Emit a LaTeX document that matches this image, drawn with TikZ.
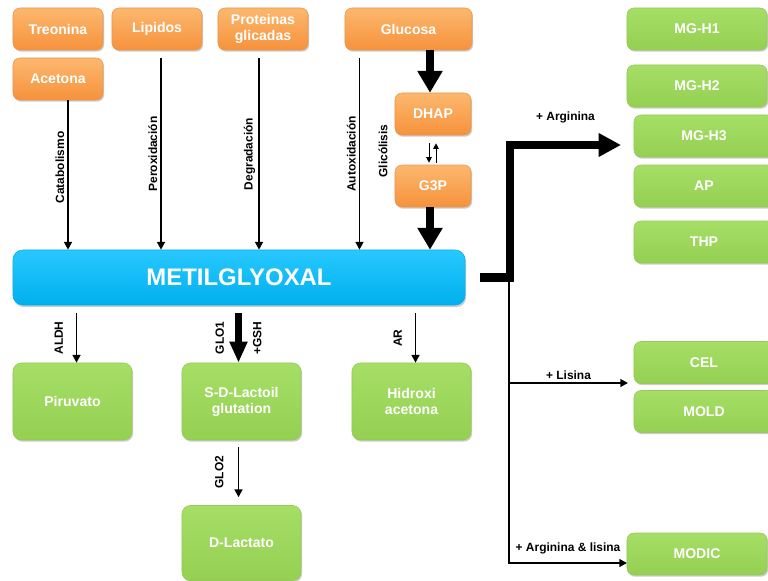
\documentclass[tikz,border=0pt]{standalone}
\usepackage{fontspec}
\setmainfont{Liberation Sans}
\usetikzlibrary{arrows.meta, positioning, shadows}
\definecolor{orangetop}{RGB}{252,184,110}
\definecolor{orangebot}{RGB}{246,146,60}
\definecolor{orangeedge}{RGB}{232,150,80}
\definecolor{greentop}{RGB}{166,222,102}
\definecolor{greenbot}{RGB}{148,208,82}
\definecolor{greenedge}{RGB}{150,200,90}
\definecolor{bluetop}{RGB}{40,200,255}
\definecolor{bluebot}{RGB}{0,176,236}
\tikzset{
  srcbox/.style={rectangle, rounded corners=5pt, draw=orangeedge, line width=0.4pt, top color=orangetop, bottom color=orangebot, text=white, font=\bfseries\fontsize{10}{11.5}\selectfont, minimum width=2.25cm, minimum height=1.05cm, align=center, inner sep=1pt, drop shadow={shadow xshift=0.8pt, shadow yshift=-1.2pt, opacity=0.4}},
  prodbox/.style={rectangle, rounded corners=6pt, draw=greenedge, line width=0.4pt, top color=greentop, bottom color=greenbot, text=white, font=\bfseries\fontsize{10}{11.5}\selectfont, minimum width=2.975cm, minimum height=1.925cm, align=center, drop shadow={shadow xshift=0.8pt, shadow yshift=-1.2pt, opacity=0.4}},
  agebox/.style={prodbox, rounded corners=5pt, minimum width=3.5cm, minimum height=1.05cm},
  mgbox/.style={rectangle, rounded corners=7pt, draw=bluebot, line width=0.4pt, top color=bluetop, bottom color=bluebot, text=white, font=\bfseries\fontsize{17}{20}\selectfont, minimum width=11.3cm, minimum height=1.375cm, drop shadow={shadow xshift=0.8pt, shadow yshift=-1.5pt, opacity=0.4}},
  lbl/.style={font=\bfseries\fontsize{8.5}{10}\selectfont, text=black, inner sep=2pt},
  arr/.style={-{Triangle[length=5.5pt, width=5.5pt]}, line width=1.4pt},
  smallarr/.style={-{Triangle[length=4pt, width=4pt]}, line width=0.7pt},
  bigarr/.style={-{Triangle[length=15.5pt, width=17pt]}, line width=5.7pt},
  midarr/.style={-{Triangle[length=15pt, width=12pt]}, line width=4.8pt}
}

\begin{document}
\begin{tikzpicture}[x=0.025cm, y=-0.025cm]
  \useasboundingbox (0,0) rectangle (768,580);
  % Sources
  \node[srcbox] (treonina) at (58,29) {Treonina};
  \node[srcbox] (acetona) at (58,79) {Acetona};
  \node[srcbox] (lipidos) at (157,29) {Lipidos};
  \node[srcbox] (proteinas) at (263,29) {Proteinas\\glicadas};
  \node[srcbox, minimum width=3.175cm] (glucosa) at (408.5,29) {Glucosa};
  \node[srcbox, minimum width=1.9cm] (dhap) at (433,114) {DHAP};
  \node[srcbox, minimum width=1.9cm] (g3p) at (433,186) {G3P};
  \node[lbl, rotate=90] (glic) at (383,151) {Glicólisis};

  % Central node
  \node[mgbox] (mg) at (239,277.5) {METILGLYOXAL};

  % Formation arrows
  \draw[arr] ([xshift=0.25cm]acetona.south) -- node[lbl, pos=0.45, rotate=90, anchor=south] {Catabolismo} ([xshift=0.25cm]acetona.south |- mg.north);
  \draw[arr] ([xshift=0.1cm, yshift=-0.2cm]lipidos.south) -- node[lbl, midway, rotate=90, anchor=south] {Peroxidación} ([xshift=0.1cm]lipidos.south |- mg.north);
  \draw[arr] ([xshift=-0.1cm, yshift=-0.2cm]proteinas.south) -- node[lbl, midway, rotate=90, anchor=south] {Degradación} ([xshift=-0.1cm]proteinas.south |- mg.north);
  \draw[arr] ([xshift=-1.225cm, yshift=-0.2cm]glucosa.south) -- node[lbl, midway, rotate=90, anchor=south] {Autoxidación} ([xshift=-1.225cm]glucosa.south |- mg.north);
  \draw[bigarr] ([xshift=-0.075cm]glucosa.south -| dhap.north) -- ([xshift=-0.075cm]dhap.north);
  \draw[smallarr] ([xshift=-0.1cm, yshift=-0.2cm]dhap.south) -- ([xshift=-0.1cm, yshift=0.05cm]g3p.north);
  \draw[smallarr] ([xshift=0.075cm, yshift=0.05cm]g3p.north) -- ([xshift=0.075cm, yshift=-0.2cm]dhap.south);
  \draw[bigarr] ([xshift=-0.075cm]g3p.south) -- ([xshift=-0.075cm]g3p.south |- mg.north);

  % Degradation products
  \node[prodbox] (piruvato) at (72.5,401.5) {Piruvato};
  \node[prodbox] (lactoil) at (241.5,401.5) {S-D-Lactoil\\glutation};
  \node[prodbox] (hidroxi) at (411.5,401.5) {Hidroxi\\acetona};
  \node[prodbox, minimum height=1.875cm] (lactato) at (241.5,543) {D-Lactato};

  \draw[arr] ([xshift=0.1cm, yshift=-0.2cm]mg.south -| piruvato.north) -- node[lbl, midway, rotate=90, anchor=south, yshift=7pt] {ALDH} ([xshift=0.1cm]piruvato.north);
  \draw[midarr] ([xshift=-0.075cm, yshift=-0.2cm]mg.south -| lactoil.north) -- node[lbl, midway, rotate=90, anchor=south, yshift=6pt] {GLO1} node[lbl, midway, rotate=90, anchor=north, yshift=-6pt] {+GSH} ([xshift=-0.075cm]lactoil.north);
  \draw[arr] ([xshift=0.1cm, yshift=-0.2cm]mg.south -| hidroxi.north) -- node[lbl, midway, rotate=90, anchor=south, yshift=7pt] {AR} ([xshift=0.1cm]hidroxi.north);
  \draw[arr] ([xshift=-0.075cm, yshift=-0.175cm]lactoil.south) -- node[lbl, midway, rotate=90, anchor=south, yshift=8pt] {GLO2} ([xshift=-0.075cm, yshift=0.2cm]lactato.north);

  % AGEs
  \node[agebox] (mgh1) at (697,29) {MG-H1};
  \node[agebox] (mgh2) at (697,86) {MG-H2};
  \node[agebox] (mgh3) at (704,136) {MG-H3};
  \node[agebox] (ap) at (704,186) {AP};
  \node[agebox] (thp) at (704,242) {THP};
  \node[agebox] (cel) at (704,362.5) {CEL};
  \node[agebox] (mold) at (704,411.5) {MOLD};
  \node[agebox] (modic) at (697,554) {MODIC};

  \coordinate (hub) at (510,277.5);
  \coordinate (bus) at (509,281);
  \coordinate (argin) at (621,145);
  \coordinate (lisin) at (628,383);
  \coordinate (both) at (627,563);
  \draw[bigarr, -{Triangle[length=16pt, width=16pt]}] ([xshift=0.375cm]mg.east) -- (hub) |- node[lbl, pos=0.75, above=0.38cm] {+ Arginina} (argin);
  \draw[arr] (lisin -| bus) -- node[lbl, above] {+ Lisina} (lisin);
  \draw[arr] (bus) |- node[lbl, pos=0.75, above=0.12cm] {+ Arginina \& lisina} (both);
\end{tikzpicture}
\end{document}
